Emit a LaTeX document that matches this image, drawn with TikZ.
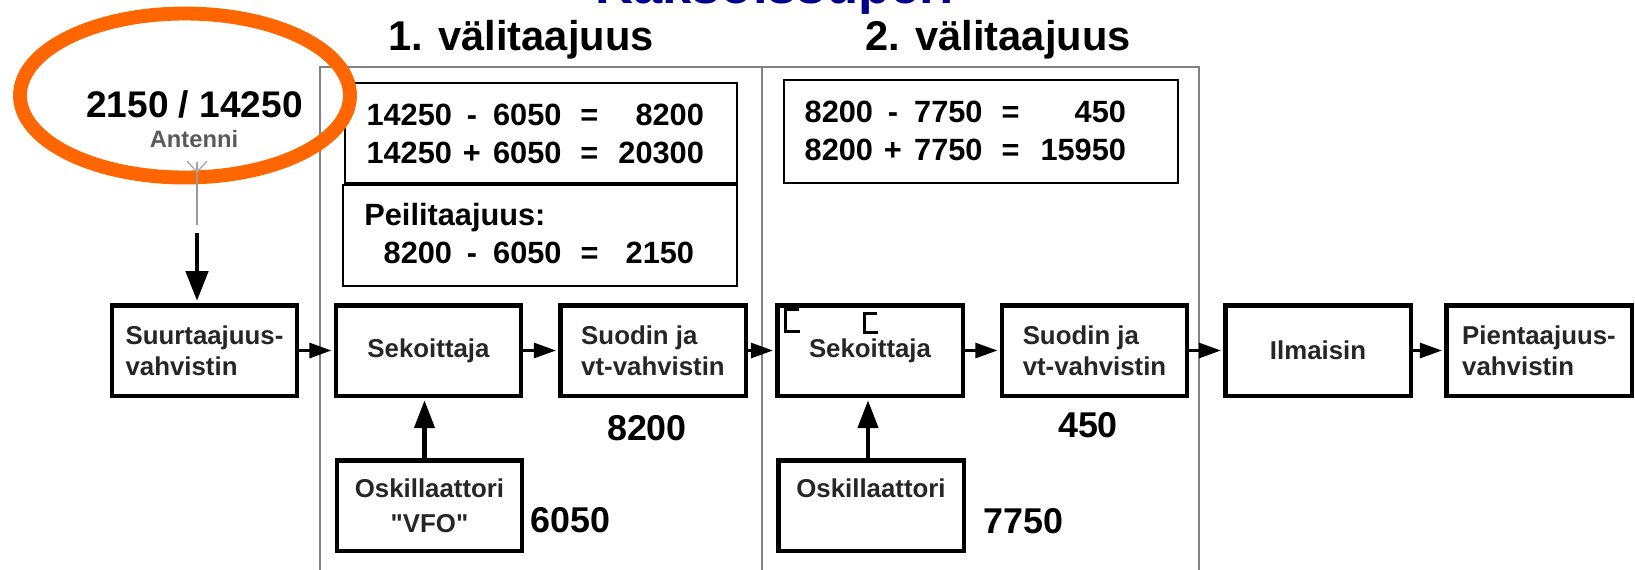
\documentclass[tikz,border=0pt]{standalone}
\usepackage{fontspec}
\setmainfont{Liberation Sans}
\newfontfamily\plainquote{Liberation Sans}
\usetikzlibrary{arrows.meta}
\newlength{\pxu}\setlength{\pxu}{0.56693pt}
\definecolor{ringorange}{RGB}{255,102,0}
\definecolor{titleblue}{RGB}{0,0,140}
\definecolor{framegray}{RGB}{130,130,130}
\newcommand{\eqrow}[6]{\makebox[#1\pxu][r]{#2}\makebox[40\pxu]{#3}\makebox[70\pxu][r]{#4}\makebox[56\pxu]{=}\makebox[#5\pxu][r]{#6}}
\newcommand{\sq}{{\plainquote\bfseries"}}
\tikzset{
  blockbox/.style={draw=black, line width=2.55pt, minimum width=3.71cm, minimum height=1.81cm,
    inner sep=0pt, align=left, text=black!85, font=\fontsize{14.7pt}{17.6pt}\selectfont\bfseries},
  oscbox/.style={blockbox, align=center, font=\fontsize{14.7pt}{19.8pt}\selectfont\bfseries},
  conn/.style={line width=1.7pt, -{Triangle[length=12.5pt,width=8.5pt]}, shorten >=1.2pt},
  vconn/.style={line width=2.8pt, -{Triangle[length=16pt,width=11.3pt]}, shorten >=1.2pt},
  eqtext/.style={inner sep=0pt, anchor=base west, font=\fontsize{17.5pt}{21pt}\selectfont\bfseries},
  bignum/.style={inner sep=0pt, font=\fontsize{20.4pt}{24pt}\selectfont\bfseries},
  headtext/.style={inner sep=0pt, anchor=base, font=\fontsize{23.7pt}{28pt}\selectfont\bfseries},
  eqbox/.style={draw=black, line width=1.1pt},
  framebox/.style={draw=framegray, line width=1.1pt},
}
\begin{document}
\begin{tikzpicture}[x=0.02cm, y=-0.02cm]
\useasboundingbox (0,0) rectangle (1635,569);
% cut-off blue title
\node[inner sep=0pt, anchor=base, text=titleblue, font=\fontsize{29.9pt}{34pt}\selectfont\bfseries] (title) at (775,3) {Kaksoissuperi};
% frames
\draw[framebox] (320,600) -- (320,67) -- (1199,67) -- (1199,600);
\draw[framebox] (762,67) -- (762,600);
\node[headtext] (h1) at (521,50) {1. välitaajuus};
\node[headtext] (h2) at (998,50) {2. välitaajuus};
% equation boxes
\draw[eqbox] (345,83) rectangle (737,183);
\draw[eqbox] (343,185) rectangle (737,286);
\draw[eqbox] (784,80) rectangle (1178,183);
\node[eqtext] (e1) at (365,125) {\eqrow{87}{14250}{-}{6050}{87}{8200}};
\node[eqtext] (e2) at (365,163) {\eqrow{87}{14250}{+}{6050}{87}{20300}};
\node[eqtext] (p0) at (364,225) {Peilitaajuus:};
\node[eqtext] (p1) at (382,263) {\eqrow{70}{8200}{-}{6050}{77}{2150}};
\node[eqtext] (f1) at (804,122) {\eqrow{69}{8200}{-}{7750}{88}{450}};
\node[eqtext] (f2) at (804,160) {\eqrow{69}{8200}{+}{7750}{88}{15950}};
% antenna
\draw[ringorange, line width=7.9pt] (185,95.5) ellipse [x radius=165, y radius=82];
\node[inner sep=0pt, anchor=base, font=\fontsize{21.1pt}{25pt}\selectfont\bfseries] (freq) at (194.5,117) {2150 / 14250};
\node[inner sep=0pt, anchor=base, text=black!65, font=\fontsize{13.5pt}{16pt}\selectfont\bfseries] (ant) at (194,147) {Antenni};
\draw[black!35, line width=0.7pt] (187,161) -- (197,172) -- (207,161);
\draw[black!35, line width=0.7pt] (197,162) -- (197,172);
\draw[black!40, line width=1.2pt] (197,172) -- (197,225);
\coordinate (antTop) at (197,233);
% blocks
\node[blockbox] (hf) at (204.5,350.5) {Suurtaajuus-\\vahvistin};
\node[blockbox, align=center] (sek1) at (428.5,350.5) {Sekoittaja};
\node[blockbox] (suo1) at (653,350.5) {Suodin ja\\vt-vahvistin};
\node[blockbox, align=center] (sek2) at (870,350.5) {Sekoittaja};
\node[blockbox] (suo2) at (1094.5,350.5) {Suodin ja\\vt-vahvistin};
\node[blockbox, align=center] (ilm) at (1318,350.5) {Ilmaisin};
\node[blockbox] (pie) at (1539,350.5) {Pientaajuus-\\vahvistin};
\node[oscbox] (vfo) at (429.5,505.5) {Oskillaattori\\\sq VFO\sq};
\node[oscbox] (osk2) at (871,505.5) {Oskillaattori\\\phantom{VFO}};
% marks in second mixer
\draw[line width=1.7pt] (799,309) -- (785,309) -- (785,331) -- (800,331);
\draw[line width=1.7pt] (877,313) -- (864,313) -- (864,332) -- (878,332);
% connectors
\draw[line width=2.8pt, -{Triangle[length=17pt,width=12.5pt]}, shorten >=1.2pt] (antTop) -- (antTop |- hf.north);
\draw[conn] (hf) -- (sek1);
\draw[conn] (sek1) -- (suo1);
\draw[conn] (suo1) -- (sek2);
\draw[conn] (sek2) -- (suo2);
\draw[conn] (suo2) -- (ilm);
\draw[conn] (ilm) -- (pie);
\draw[vconn] ([xshift=-0.1cm]vfo.north) -- ([xshift=-0.1cm]vfo.north |- sek1.south);
\draw[vconn] ([xshift=-0.06cm]osk2.north) -- ([xshift=-0.06cm]osk2.north |- sek2.south);
% frequency labels
\node[bignum, anchor=base] (n8200) at (647,440) {8200};
\node[bignum, anchor=base west] (n6050) at (530,532) {6050};
\node[bignum, anchor=base] (n450) at (1088,437) {450};
\node[bignum, anchor=base west] (n7750) at (983,533) {7750};
\end{tikzpicture}
\end{document}
